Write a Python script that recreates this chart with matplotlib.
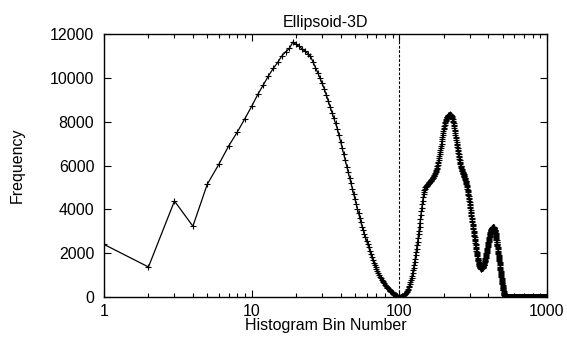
import matplotlib
matplotlib.use("Agg")
import matplotlib.pyplot as plt
from matplotlib.ticker import FixedLocator, FixedFormatter, LogLocator, NullFormatter

plt.rcParams['font.family'] = ['Liberation Sans', 'DejaVu Sans']

title = "Ellipsoid-3D"
xlabel = "Histogram Bin Number"
ylabel = "Frequency"
x_ticks = [1, 10, 100, 1000]
x_ticklabels = ["1", "10", "100", "1000"]
y_ticks = [0, 2000, 4000, 6000, 8000, 10000, 12000]
threshold_bin = 100

# bins 1..19
freq_1_19 = [2400, 1370, 4380, 3230, 5140, 6060, 6900, 7530, 8140, 8700,
             9240, 9680, 10090, 10430, 10700, 11000, 11190, 11340, 11630]
# bins 20..100
freq_20_100 = [11530, 11430, 11320, 11220, 11110, 10990, 10730, 10470, 10240, 9990,
               9750, 9510, 9220, 8940, 8670, 8410, 8160, 7920, 7680, 7390,
               7090, 6800, 6510, 6230, 5950, 5690, 5430, 5180, 4930, 4690,
               4460, 4230, 4020, 3810, 3600, 3400, 3200, 3040, 2880, 2720,
               2570, 2420, 2270, 2110, 1960, 1820, 1690, 1570, 1460, 1360,
               1270, 1180, 1090, 1010, 930, 860, 790, 730, 670, 620,
               570, 520, 470, 430, 390, 350, 310, 280, 250, 220,
               190, 160, 140, 110, 90, 70, 50, 35, 20, 10,
               0]
# bins 101..520
freq_101_520 = [0, 5, 15, 25, 40, 55, 75, 100, 125, 155,
                190, 230, 275, 325, 380, 440, 510, 590, 680, 770,
                870, 980, 1090, 1210, 1340, 1470, 1610, 1750, 1900, 2050,
                2200, 2360, 2520, 2690, 2860, 3030, 3200, 3380, 3560, 3740,
                3910, 4080, 4240, 4400, 4550, 4680, 4790, 4880, 4950, 5000,
                5020, 5050, 5070, 5090, 5120, 5140, 5160, 5180, 5210, 5230,
                5250, 5270, 5290, 5320, 5340, 5370, 5390, 5420, 5440, 5470,
                5500, 5530, 5570, 5610, 5650, 5700, 5740, 5790, 5850, 5900,
                5960, 6030, 6100, 6170, 6250, 6340, 6430, 6520, 6610, 6700,
                6800, 6900, 7000, 7100, 7200, 7290, 7380, 7470, 7560, 7650,
                7720, 7790, 7860, 7930, 8000, 8040, 8080, 8120, 8160, 8200,
                8220, 8240, 8260, 8280, 8300, 8310, 8310, 8320, 8320, 8330,
                8320, 8310, 8300, 8290, 8280, 8250, 8210, 8180, 8140, 8100,
                8040, 7980, 7920, 7860, 7800, 7720, 7640, 7560, 7480, 7400,
                7320, 7240, 7160, 7080, 7000, 6930, 6860, 6790, 6720, 6650,
                6580, 6510, 6440, 6370, 6300, 6240, 6180, 6120, 6060, 6000,
                5960, 5920, 5880, 5840, 5800, 5770, 5740, 5710, 5680, 5650,
                5620, 5590, 5560, 5530, 5500, 5470, 5440, 5410, 5380, 5350,
                5310, 5270, 5230, 5190, 5150, 5100, 5050, 5000, 4950, 4900,
                4840, 4780, 4720, 4660, 4600, 4530, 4460, 4390, 4320, 4250,
                4180, 4110, 4040, 3970, 3900, 3830, 3760, 3690, 3620, 3550,
                3480, 3420, 3350, 3290, 3220, 3160, 3090, 3030, 2960, 2900,
                2840, 2780, 2720, 2660, 2600, 2540, 2480, 2420, 2360, 2300,
                2240, 2180, 2120, 2060, 2000, 1950, 1900, 1850, 1800, 1750,
                1710, 1670, 1630, 1590, 1550, 1520, 1490, 1460, 1430, 1400,
                1380, 1370, 1350, 1340, 1320, 1320, 1310, 1310, 1300, 1300,
                1310, 1310, 1320, 1320, 1330, 1340, 1360, 1370, 1390, 1400,
                1420, 1440, 1460, 1480, 1500, 1530, 1560, 1590, 1620, 1650,
                1690, 1720, 1760, 1790, 1830, 1870, 1910, 1950, 1990, 2030,
                2070, 2120, 2160, 2210, 2250, 2290, 2330, 2370, 2410, 2450,
                2490, 2530, 2570, 2610, 2650, 2690, 2720, 2760, 2790, 2830,
                2860, 2890, 2920, 2950, 2980, 3000, 3020, 3050, 3070, 3090,
                3100, 3120, 3130, 3150, 3160, 3170, 3170, 3180, 3180, 3190,
                3190, 3190, 3180, 3180, 3180, 3170, 3160, 3150, 3140, 3120,
                3100, 3070, 3050, 3020, 3000, 2970, 2930, 2900, 2860, 2830,
                2790, 2750, 2700, 2660, 2620, 2580, 2530, 2490, 2440, 2400,
                2350, 2310, 2260, 2220, 2170, 2120, 2070, 2030, 1980, 1930,
                1880, 1830, 1790, 1740, 1690, 1640, 1590, 1540, 1490, 1440,
                1390, 1340, 1300, 1250, 1200, 1150, 1100, 1060, 1010, 960,
                920, 870, 830, 780, 740, 700, 660, 620, 580, 540,
                500, 470, 430, 400, 360, 330, 300, 260, 230, 200,
                180, 150, 130, 100, 80, 60, 40, 20, 10, 0]
# bins 521..1000 are all empty
freq_521_1000 = [0] * 480

freq = freq_1_19 + freq_20_100 + freq_101_520 + freq_521_1000
bins = list(range(1, len(freq) + 1))

fig = plt.figure(figsize=(5.67, 3.37), dpi=100)
ax = fig.add_axes([104 / 567, 1 - 297 / 337, (547 - 104) / 567, (297 - 34) / 337])

ax.plot(bins, freq, color='black', linewidth=0.9, marker='+',
        markersize=5, markeredgewidth=0.8, clip_on=True)
ax.axvline(threshold_bin, color='black', linewidth=0.8, linestyle=(0, (2.5, 1.5)))

ax.set_xscale('log')
ax.set_xlim(1, 1000)
ax.set_ylim(0, 12000)

ax.xaxis.set_major_locator(FixedLocator(x_ticks))
ax.xaxis.set_major_formatter(FixedFormatter(x_ticklabels))
ax.xaxis.set_minor_locator(LogLocator(base=10, subs=range(2, 10)))
ax.xaxis.set_minor_formatter(NullFormatter())
ax.set_yticks(y_ticks)
ax.set_yticklabels([str(v) for v in y_ticks])

ax.tick_params(which='major', direction='in', length=5, width=0.8,
               top=True, right=True, labelsize=11.5, pad=6)
ax.tick_params(which='minor', direction='in', length=3, width=0.8,
               top=True, right=True)
ax.tick_params(axis='x', which='major', pad=5)
ax.tick_params(axis='y', which='major', pad=7)
for s in ax.spines.values():
    s.set_linewidth(1.0)

ax.set_title(title, fontsize=11.5, pad=5)
ax.set_xlabel(xlabel, fontsize=11.5, labelpad=-1)
ax.set_ylabel(ylabel, fontsize=11.5, labelpad=18)

fig.savefig("out.png", dpi=100)
